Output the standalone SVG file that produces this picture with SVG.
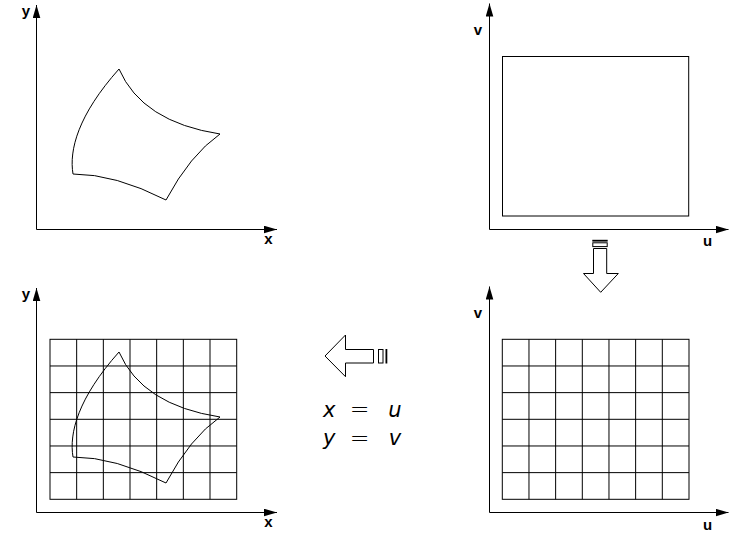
<svg xmlns="http://www.w3.org/2000/svg" width="735" height="534" viewBox="0 0 735 534">
  <defs>
    <style>
      .ax{stroke:#000;stroke-width:1;fill:none}
      .ln{stroke:#000;stroke-width:1;fill:none}
      .lbl{font-family:"Liberation Sans",Arial,sans-serif;font-weight:bold;font-size:15px;fill:#000;text-anchor:middle}
      .eq{font-family:"DejaVu Sans",sans-serif;font-size:21px;fill:#000;text-anchor:middle}
      .it{font-style:italic}
      .eqs{font-weight:200}
      .blk{fill:#fff;stroke:#000;stroke-width:1}
    </style>
    <marker id="ah" markerUnits="userSpaceOnUse" markerWidth="14" markerHeight="8" refX="13" refY="3.8" orient="auto">
      <path d="M0,0 L13,3.8 L0,7.6 Z" fill="#000"/>
    </marker>
    <path id="shape" d="M119,69 Q142,122 220,134 Q190,155 166,200 Q115,174 73,174 C69,150 78,115 119,69 Z"/>
    <g id="grid">
      <rect x="0" y="0" width="186.7" height="160" class="ln"/>
      <path class="ln" d="M26.67,0V160M53.33,0V160M80,0V160M106.67,0V160M133.33,0V160M160,0V160M0,26.67H186.7M0,53.33H186.7M0,80H186.7M0,106.67H186.7M0,133.33H186.7"/>
    </g>
  </defs>
  <rect width="735" height="534" fill="#fff"/>

  <g id="panel-xy-top">
    <path class="ax" d="M36.5,229.5 V5" marker-end="url(#ah)"/>
    <path class="ax" d="M36.5,229.5 H277" marker-end="url(#ah)"/>
    <text class="lbl" x="26" y="16">y</text>
    <text class="lbl" x="268.5" y="244">x</text>
    <use href="#shape" class="ln"/>
  </g>

  <g id="panel-uv-top">
    <path class="ax" d="M489.5,229.5 V3.5" marker-end="url(#ah)"/>
    <path class="ax" d="M489.5,229.5 H728.5" marker-end="url(#ah)"/>
    <text class="lbl" x="478" y="35">v</text>
    <text class="lbl" x="707.5" y="246">u</text>
    <rect class="ln" x="502.5" y="56.5" width="186.2" height="159.5"/>
  </g>

  <g id="panel-xy-bottom">
    <path class="ax" d="M36.5,512.5 V288" marker-end="url(#ah)"/>
    <path class="ax" d="M36.5,512.5 H277" marker-end="url(#ah)"/>
    <text class="lbl" x="26" y="299">y</text>
    <text class="lbl" x="268.5" y="527">x</text>
    <use href="#grid" x="50" y="339.3"/>
    <use href="#shape" class="ln" transform="translate(0,283)"/>
  </g>

  <g id="panel-uv-bottom">
    <path class="ax" d="M489.5,512.5 V286.5" marker-end="url(#ah)"/>
    <path class="ax" d="M489.5,512.5 H728.5" marker-end="url(#ah)"/>
    <text class="lbl" x="478" y="318">v</text>
    <text class="lbl" x="707.5" y="529.5">u</text>
    <use href="#grid" x="502.3" y="339.3"/>
  </g>

  <g id="arrow-down">
    <rect x="592.3" y="239.8" width="15.4" height="1.8" fill="#000"/>
    <rect class="blk" x="592.8" y="242.8" width="14.4" height="3.8"/>
    <path class="blk" d="M593.5,248.5 V273.5 H583.5 L600.7,292.3 L618.3,273.5 H606.7 V248.5 Z"/>
  </g>

  <g id="arrow-left">
    <path class="blk" d="M373.5,349.5 H345.5 V335 L325,356 L345.5,376.7 V363 H373.5 Z"/>
    <rect class="blk" x="378.5" y="349.5" width="4.5" height="13.5"/>
    <rect x="385.5" y="349" width="1.8" height="14.5" fill="#000"/>
  </g>

  <g id="equations">
    <text class="eq it" x="329.2" y="416.7">x</text>
    <text class="eq eqs" x="359.5" y="416.7" transform="translate(359.5,409.7) scale(1.12,1.1) translate(-359.5,-409.7)">=</text>
    <text class="eq it" x="395" y="416.7">u</text>
    <text class="eq it" x="329.2" y="445">y</text>
    <text class="eq eqs" x="359.5" y="445" transform="translate(359.5,438) scale(1.12,1.1) translate(-359.5,-438)">=</text>
    <text class="eq it" x="395" y="445">v</text>
  </g>
</svg>
